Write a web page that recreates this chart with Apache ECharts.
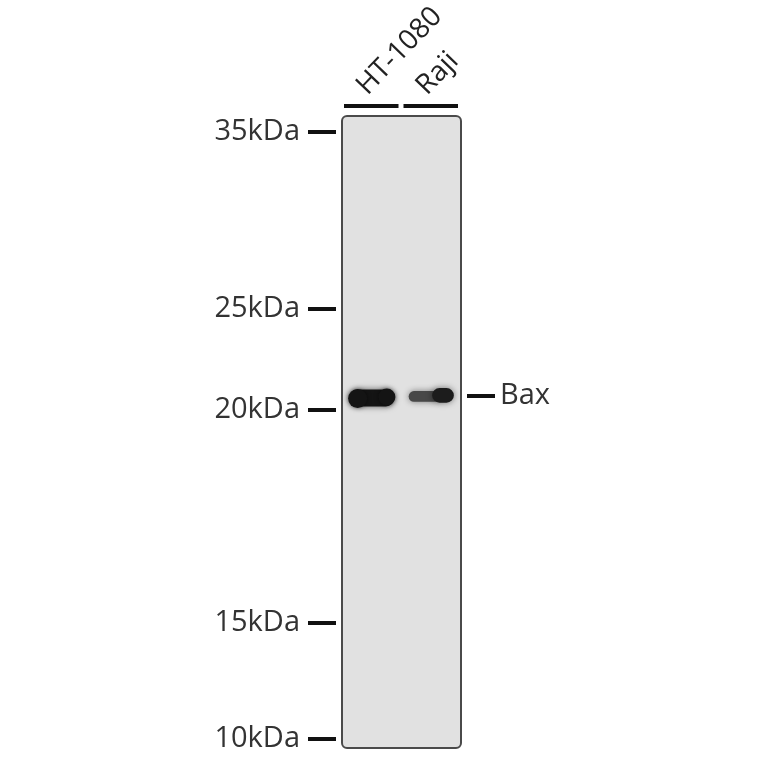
<!DOCTYPE html>
<html>
<head>
<meta charset="utf-8">
<script src="https://cdn.jsdelivr.net/npm/echarts@6/dist/echarts.min.js"></script>
<style>
  html, body { margin: 0; padding: 0; background: #fff; }
  #main { width: 764px; height: 764px; }
</style>
</head>
<body>
<div id="main"></div>
<script>
// lanes of the blot
var lanes = ['HT-1080', 'Raji'];
// molecular weight marker, relative migration (0 = top of membrane, 100 = bottom)
var markerLabels = ['35kDa', '25kDa', '20kDa', '15kDa', '10kDa'];
var markerMigration = [2.4, 30.5, 46.4, 80.2, 98.6];
// target band per lane: migration and relative intensity
var bandName = 'Bax';
var bandMigration = [44.6, 44.2];
var bandIntensity = [1.0, 0.72];

var myChart = echarts.init(document.getElementById('main'));

var font = '"Open Sans", "Noto Sans", sans-serif';

// 膜的底色和边框（圆角）
function renderMembrane(params, api) {
    var laneW = api.size([1, 0])[0];
    var first = api.coord([0, 0]);
    var last = api.coord([lanes.length - 1, 100]);
    var x0 = first[0] - laneW / 2;
    var x1 = last[0] + laneW / 2;
    return {
        type: 'rect',
        shape: { x: x0, y: first[1], width: x1 - x0, height: last[1] - first[1], r: 5 },
        style: { fill: '#e1e1e1', stroke: '#4a4a4a', lineWidth: 2 }
    };
}

// 条带：圆角矩形加模糊
function renderBand(params, api) {
    var lane = api.value(0);
    var mig = api.value(1);
    var inten = api.value(2);
    var c = api.coord([lane, mig]);
    var laneW = api.size([1, 0])[0];
    var w = laneW * 0.76;
    var h = 9 + 8 * inten;
    var children = [];
    if (inten >= 0.9) {
        children.push({
            type: 'rect',
            shape: { x: c[0] - w / 2, y: c[1] - h / 2, width: w, height: h, r: h / 2 },
            style: { fill: '#141414', shadowBlur: 6, shadowColor: 'rgba(0,0,0,0.6)' }
        });
        children.push({
            type: 'circle',
            shape: { cx: c[0] - w / 2 + h / 2, cy: c[1] + 0.5, r: h / 2 + 1 },
            style: { fill: '#141414', shadowBlur: 4, shadowColor: 'rgba(0,0,0,0.5)' }
        });
        children.push({
            type: 'circle',
            shape: { cx: c[0] + w / 2 - h / 2 + 1, cy: c[1] - 1, r: h / 2 },
            style: { fill: '#141414', shadowBlur: 4, shadowColor: 'rgba(0,0,0,0.5)' }
        });
    } else {
        var g = Math.round(30 + (1 - inten) * 150);
        var col = 'rgb(' + g + ',' + g + ',' + g + ')';
        var hs = h * 0.72;
        children.push({
            type: 'rect',
            shape: { x: c[0] - w / 2, y: c[1] - hs / 2 + 1, width: w * 0.7, height: hs, r: hs / 2 },
            style: { fill: col, shadowBlur: 6, shadowColor: 'rgba(0,0,0,0.45)' }
        });
        children.push({
            type: 'rect',
            shape: { x: c[0] + w * 0.02, y: c[1] - h / 2, width: w * 0.48, height: h, r: h / 2 },
            style: { fill: '#1c1c1c', shadowBlur: 6, shadowColor: 'rgba(0,0,0,0.5)' }
        });
    }
    return { type: 'group', children: children };
}

// 泳道上方的黑线
function renderLaneBar(params, api) {
    var lane = api.value(0);
    var c = api.coord([lane, 0]);
    var laneW = api.size([1, 0])[0];
    return {
        type: 'rect',
        shape: { x: c[0] - laneW / 2 + 2, y: c[1] - 12, width: laneW - 5, height: 4 },
        style: { fill: '#111' }
    };
}

var bandData = lanes.map(function (l, i) { return [i, bandMigration[i], bandIntensity[i]]; });
var laneData = lanes.map(function (l, i) { return [i]; });

var option = {
    animation: false,
    grid: {
        left: 342, top: 116, width: 119, height: 632,
        show: false
    },
    xAxis: {
        type: 'category',
        data: lanes,
        position: 'top',
        axisLine: { show: false },
        axisTick: { show: false },
        splitLine: { show: false },
        axisLabel: {
            rotate: 46,
            margin: 16,
            fontSize: 28,
            fontFamily: font,
            color: '#222',
            verticalAlign: 'bottom'
        }
    },
    yAxis: [{
        type: 'value',
        inverse: true,
        min: 0,
        max: 100,
        position: 'left',
        offset: 6,
        axisLine: { show: false },
        splitLine: { show: false },
        axisTick: {
            show: true,
            length: 28,
            customValues: markerMigration,
            lineStyle: { color: '#111', width: 4 }
        },
        axisLabel: {
            margin: 36,
            customValues: markerMigration,
            fontSize: 29,
            fontFamily: font,
            color: '#333',
            formatter: function (v) {
                var i = markerMigration.indexOf(v);
                return i >= 0 ? markerLabels[i] : '';
            }
        }
    }, {
        type: 'value',
        inverse: true,
        min: 0,
        max: 100,
        position: 'right',
        offset: 6,
        axisLine: { show: false },
        splitLine: { show: false },
        axisTick: {
            show: true,
            length: 28,
            customValues: [bandMigration[1]],
            lineStyle: { color: '#111', width: 4 }
        },
        axisLabel: {
            margin: 33,
            customValues: [bandMigration[1]],
            fontSize: 29,
            fontFamily: font,
            color: '#333',
            formatter: function () { return bandName; }
        }
    }],
    series: [{
        type: 'custom',
        name: 'membrane',
        renderItem: renderMembrane,
        data: [[0]],
        encode: { x: 0 },
        clip: false,
        silent: true,
        z: 1
    }, {
        type: 'custom',
        name: 'bands',
        renderItem: renderBand,
        data: bandData,
        encode: { x: 0, y: 1 },
        z: 3
    }, {
        type: 'custom',
        name: 'lanes',
        renderItem: renderLaneBar,
        data: laneData,
        encode: { x: 0 },
        clip: false,
        z: 3
    }]
};

myChart.setOption(option);
</script>
</body>
</html>
